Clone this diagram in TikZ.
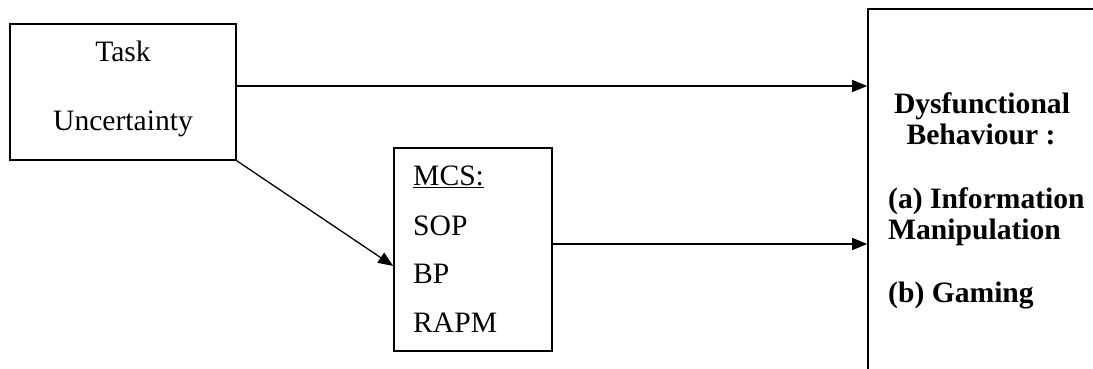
\documentclass[tikz,border=0pt]{standalone}
\usepackage{fontspec}
\setmainfont{Liberation Serif}
\usetikzlibrary{arrows.meta}
\begin{document}
\begin{tikzpicture}[x=1pt,y=-1pt,
  box/.style={draw,line width=1.6pt,inner sep=0pt},
  lbl/.style={inner sep=0pt,font=\fontsize{29.6}{31.5}\selectfont},
  blbl/.style={lbl,font=\fontsize{29.6}{31.5}\selectfont\bfseries},
  arr/.style={line width=1.3pt,-{Triangle[length=15pt,width=12pt]}}]
\useasboundingbox (0,0) rectangle (1093,368);
\clip (0,0) rectangle (1093,368);
\fill[white] (0,0) rectangle (1093,368);

% boxes
\node[box,minimum width=226pt,minimum height=136pt] (task) at (123,92) {};
\node[box,minimum width=158pt,minimum height=203pt] (mcs) at (473,249.5) {};
\node[box,minimum width=242pt,minimum height=381pt] (dys) at (989,199.5) {};

% task uncertainty
\node[lbl,anchor=base] (t1) at (123,61) {Task};
\node[lbl,anchor=base] (t2) at (123,130) {Uncertainty};

% control systems
\node[lbl,anchor=base west] (m1) at (413,185) {\underline{MCS:}};
\node[lbl,anchor=base west] (m2) at (413,235) {SOP};
\node[lbl,anchor=base west] (m3) at (413,283) {BP};
\node[lbl,anchor=base west] (m4) at (413,332) {RAPM};

% outcome
\node[blbl,anchor=base] (d1) at (982,113) {Dysfunctional};
\node[blbl,anchor=base] (d2) at (981,144) {Behaviour :};
\node[blbl,anchor=base west] (d3) at (888,208) {(a) Information};
\node[blbl,anchor=base west] (d4) at (888,239) {Manipulation};
\node[blbl,anchor=base west] (d5) at (888,302) {(b) Gaming};

% connectors
\draw[arr] ([yshift=6pt]task.east) -- ([yshift=6pt]task.east -| dys.west);
\draw[line width=1.3pt,-{Triangle[length=15pt,width=12pt]}] (task.south east) -- ([yshift=-16.5pt]mcs.west);
\draw[arr] ([yshift=5.5pt]mcs.east) -- ([yshift=5.5pt]mcs.east -| dys.west);
\end{tikzpicture}
\end{document}
